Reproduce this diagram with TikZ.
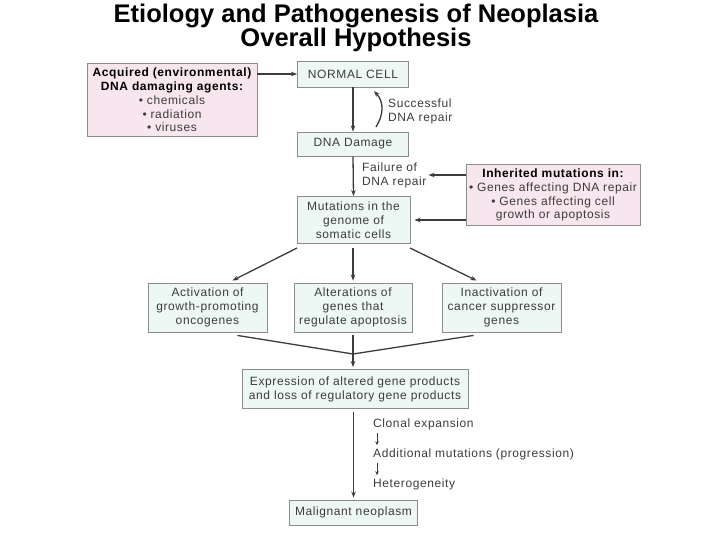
\documentclass[tikz,border=0pt]{standalone}
\usepackage{fontspec}
\setmainfont{Liberation Sans}
\newfontfamily\boxfont[LetterSpace=5]{Liberation Sans}
\usetikzlibrary{arrows.meta}
\definecolor{cyanfill}{RGB}{237,247,244}
\definecolor{pinkfill}{RGB}{248,230,238}
\definecolor{bordergray}{RGB}{140,140,140}
\definecolor{textgray}{RGB}{60,60,60}
\definecolor{arrowgray}{RGB}{60,60,60}
\tikzset{
  box/.style={draw=bordergray, fill=cyanfill, line width=0.9pt, align=center, inner sep=0pt,
    text=textgray, font=\boxfont\fontsize{12}{13.8}\selectfont},
  pbox/.style={box, fill=pinkfill},
  lbl/.style={align=left, inner sep=0pt, text=textgray, font=\boxfont\fontsize{12}{13.8}\selectfont},
  ttl/.style={font=\bfseries\fontsize{25.5}{25.5}\selectfont, anchor=base, inner sep=0pt},
  arr/.style={-{Stealth[length=6pt,width=4.5pt]}, line width=1.3pt, draw=arrowgray},
  sarr/.style={-{Stealth[length=4pt,width=3.5pt]}, line width=1pt, draw=arrowgray},
  ln/.style={line width=1.3pt, draw=arrowgray}
}
\begin{document}
\begin{tikzpicture}[x=1pt,y=-1pt]
\fill[white] (0,0) rectangle (720,540);
\useasboundingbox (0,0) rectangle (720,540);
% title
\node[ttl] (title1) at (356,23) {Etiology and Pathogenesis of Neoplasia};
\node[ttl] (title2) at (356,46.5) {Overall Hypothesis};
% boxes
\node[pbox, minimum width=170pt, minimum height=73pt] (acq) at (172,100)
  {\textcolor{black}{\bfseries Acquired (environmental)}\\ \textcolor{black}{\bfseries DNA damaging agents:}\\ • chemicals\\ • radiation\\ • viruses};
\node[box, minimum width=111pt, minimum height=26pt] (normal) at (353,74) {NORMAL CELL};
\node[box, minimum width=111pt, minimum height=24pt] (dnad) at (353,144) {DNA Damage};
\node[box, minimum width=113pt, minimum height=47pt] (mut) at (353.5,220) {Mutations in the\\ genome of\\ somatic cells};
\node[pbox, minimum width=174pt, minimum height=61pt] (inh) at (553,195)
  {\textcolor{black}{\bfseries Inherited mutations in:}\\ • Genes affecting DNA repair\\ • Genes affecting cell\\ growth or apoptosis};
\node[box, minimum width=119pt, minimum height=49pt] (act) at (207.5,307.5) {Activation of\\ growth-promoting\\ oncogenes};
\node[box, minimum width=118pt, minimum height=49pt] (alt) at (353,307.5) {Alterations of\\ genes that\\ regulate apoptosis};
\node[box, minimum width=119pt, minimum height=49pt] (inact) at (501.5,307.5) {Inactivation of\\ cancer suppressor\\ genes};
\node[box, minimum width=226pt, minimum height=39pt] (expr) at (355,389) {Expression of altered gene products\\ and loss of regulatory gene products};
\node[box, minimum width=128pt, minimum height=25pt] (mal) at (353.5,512.5) {Malignant neoplasm};
% labels
\node[lbl, anchor=west] (succ) at (388,111) {Successful\\ DNA repair};
\node[lbl, anchor=west] (fail) at (362,175) {Failure of\\ DNA repair};
\node[lbl, anchor=west] (clonal) at (373,424) {Clonal expansion};
\node[lbl, anchor=west] (addm) at (373,454) {Additional mutations (progression)};
\node[lbl, anchor=west] (het) at (373,484) {Heterogeneity};
% connectors
\draw[arr] (acq.east |- normal.west) -- (normal.west);
\draw[arr] (normal.south) -- (dnad.north);
\coordinate (rs) at (376,127);
\coordinate (re) at (374,91);
\draw[arr] (rs) .. controls (384,114) and (384,102) .. (re);
\draw[arr] (dnad.south) -- (mut.north);
\draw[arr] (inh.west |- fail.east) -- ([xshift=2pt]fail.east);
\draw[arr] (inh.west |- mut.east) -- ([xshift=4pt]mut.east);
\coordinate (m1) at (297,248);
\coordinate (m2) at (353,248);
\coordinate (m3) at (410,248);
\draw[arr] (m1) -- ([xshift=25pt,yshift=2pt]act.north);
\draw[arr] (m2) -- ([yshift=2pt]alt.north);
\draw[arr] (m3) -- ([xshift=-25pt,yshift=2pt]inact.north);
\coordinate (j) at (353,354);
\draw[ln] ([xshift=30pt,yshift=-3pt]act.south) -- (j);
\draw[ln] ([xshift=-28pt,yshift=-3pt]inact.south) -- (j);
\draw[ln] ([yshift=-3pt]alt.south) -- (j);
\draw[arr] (j) -- ([yshift=2pt]j |- expr.north);
\draw[arr] ([yshift=-3pt]expr.south -| mal.north) -- ([yshift=2pt]mal.north);
\draw[sarr] ([xshift=4pt,yshift=-3pt]clonal.south west) -- ([xshift=4pt,yshift=3pt]addm.north west);
\draw[sarr] ([xshift=4pt,yshift=-3pt]addm.south west) -- ([xshift=4pt,yshift=3pt]het.north west);
\end{tikzpicture}
\end{document}
